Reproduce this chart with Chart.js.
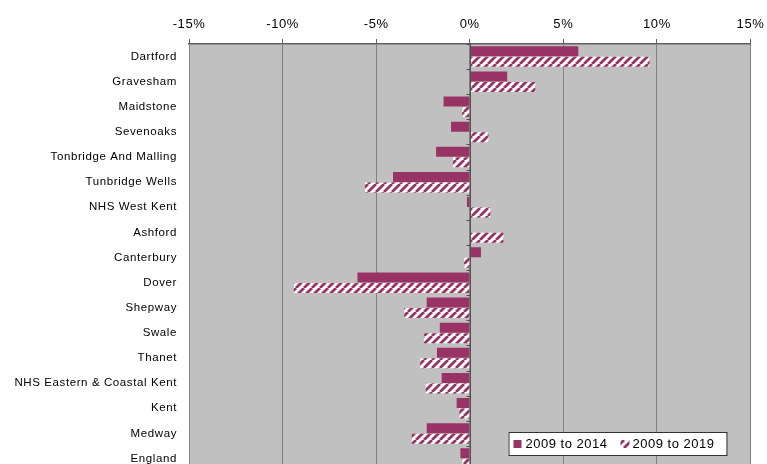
<!DOCTYPE html>
<html>
<head>
<meta charset="utf-8">
<script src="https://cdn.jsdelivr.net/npm/chart.js@4"></script>
<style>
  html, body { margin: 0; padding: 0; background: #fff; overflow: hidden; }
  canvas { display: block; }
</style>
</head>
<body>
<canvas id="popChart" width="767" height="482"></canvas>
<script>
const areas = ['Dartford', 'Gravesham', 'Maidstone', 'Sevenoaks', 'Tonbridge And Malling',
    'Tunbridge Wells', 'NHS West Kent', 'Ashford', 'Canterbury', 'Dover', 'Shepway', 'Swale',
    'Thanet', 'NHS Eastern & Coastal Kent', 'Kent', 'Medway', 'England'];
const change2014 = [5.8, 2.0, -1.4, -1.0, -1.8, -4.1, -0.15, 0.05, 0.6, -6.0, -2.3, -1.6,
    -1.75, -1.5, -0.7, -2.3, -0.5];
const change2019 = [9.6, 3.5, -0.4, 1.0, -0.9, -5.6, 1.1, 1.8, -0.3, -9.4, -3.5, -2.45,
    -2.65, -2.35, -0.55, -3.1, -0.4];
const seriesNames = ['2009 to 2014', '2009 to 2019'];
const xTicks = [-15, -10, -5, 0, 5, 10, 15];

const MAROON = '#993366';

// white / maroon diagonal stripes for the second series
function makeHatch() {
    const c = document.createElement('canvas');
    c.width = 8; c.height = 8;
    const g = c.getContext('2d');
    g.fillStyle = '#ffffff';
    g.fillRect(0, 0, 8, 8);
    g.strokeStyle = MAROON;
    g.lineWidth = 2.8;
    g.beginPath();
    for (let k = -8; k <= 16; k += 8) {
        g.moveTo(k, 8);
        g.lineTo(k + 8, 0);
    }
    g.stroke();
    return g.createPattern(c, 'repeat');
}
const hatch = makeHatch();

// the old Excel text is spaced out a bit
const spacing = {
    id: 'spacing',
    beforeUpdate(chart) { chart.ctx.letterSpacing = '0.6px'; },
    beforeDraw(chart) { chart.ctx.letterSpacing = '0.6px'; }
};

const plotBg = {
    id: 'plotBg',
    beforeDraw(chart) {
        const { ctx, chartArea: a } = chart;
        ctx.save();
        ctx.fillStyle = '#c0c0c0';
        ctx.fillRect(a.left, a.top, a.right - a.left, a.bottom - a.top);
        ctx.restore();
    }
};

// category axis crosses at zero, with small tick marks
const zeroAxis = {
    id: 'zeroAxis',
    afterDatasetsDraw(chart) {
        const { ctx, chartArea: a, scales } = chart;
        const x0 = Math.round(scales.x.getPixelForValue(0)) + 0.5;
        const y = scales.y;
        ctx.save();
        ctx.strokeStyle = '#505050';
        ctx.lineWidth = 1;
        ctx.beginPath();
        ctx.moveTo(x0, a.top);
        ctx.lineTo(x0, a.bottom);
        for (let i = 0; i <= areas.length; i++) {
            const yy = Math.round(y.getPixelForValue(i - 0.5)) + 0.5;
            ctx.moveTo(x0 - 4, yy);
            ctx.lineTo(x0, yy);
        }
        ctx.stroke();
        ctx.restore();
    }
};

const boxLegend = {
    id: 'boxLegend',
    afterDraw(chart) {
        const { ctx, chartArea: a } = chart;
        const right = a.right - 24, left = right - 218, top = 432, h = 23;
        ctx.save();
        ctx.fillStyle = '#fff';
        ctx.fillRect(left, top, right - left, h);
        ctx.strokeStyle = '#333';
        ctx.lineWidth = 1;
        ctx.strokeRect(left + 0.5, top + 0.5, right - left, h);
        ctx.font = '13px "Liberation Sans", Arial, sans-serif';
        ctx.letterSpacing = '0.5px';
        ctx.textBaseline = 'middle';
        ctx.fillStyle = MAROON;
        ctx.fillRect(left + 5, top + 8, 8, 8);
        ctx.fillStyle = hatch;
        ctx.fillRect(left + 112, top + 8, 9, 8);
        ctx.fillStyle = '#000';
        ctx.fillText(seriesNames[0], left + 17, top + h / 2 + 1);
        ctx.fillText(seriesNames[1], left + 124, top + h / 2 + 1);
        ctx.restore();
    }
};

new Chart(document.getElementById('popChart'), {
    type: 'bar',
    data: {
        labels: areas,
        datasets: [
            { label: seriesNames[0], data: change2014, backgroundColor: MAROON },
            { label: seriesNames[1], data: change2019, backgroundColor: hatch }
        ]
    },
    options: {
        indexAxis: 'y',
        responsive: false,
        animation: false,
        categoryPercentage: 0.84,
        barPercentage: 0.95,
        layout: { padding: { left: 0, right: 16.5, top: 0, bottom: 0 } },
        plugins: {
            legend: { display: false },
            tooltip: { enabled: false }
        },
        scales: {
            x: {
                position: 'top',
                min: -15,
                max: 15,
                afterBuildTicks: (s) => { s.ticks = xTicks.map(v => ({ value: v })); },
                afterFit: (s) => { s.height = 44; s.paddingLeft = 0; s.paddingRight = 0; },
                ticks: {
                    callback: (v) => v + '%',
                    color: '#000',
                    padding: 7,
                    font: { family: '"Liberation Sans", Arial, sans-serif', size: 13 }
                },
                grid: {
                    color: '#808080',
                    lineWidth: 1,
                    drawTicks: true,
                    tickLength: 5,
                    tickColor: '#606060'
                },
                border: { color: '#606060', width: 1.5 }
            },
            y: {
                afterFit: (s) => { s.width = 189; },
                grid: { display: false },
                border: { display: false },
                ticks: {
                    color: '#000',
                    padding: 4,
                    autoSkip: false,
                    font: { family: '"Liberation Sans", Arial, sans-serif', size: 11.5 }
                }
            }
        }
    },
    plugins: [spacing, plotBg, zeroAxis, boxLegend]
});
</script>
</body>
</html>
